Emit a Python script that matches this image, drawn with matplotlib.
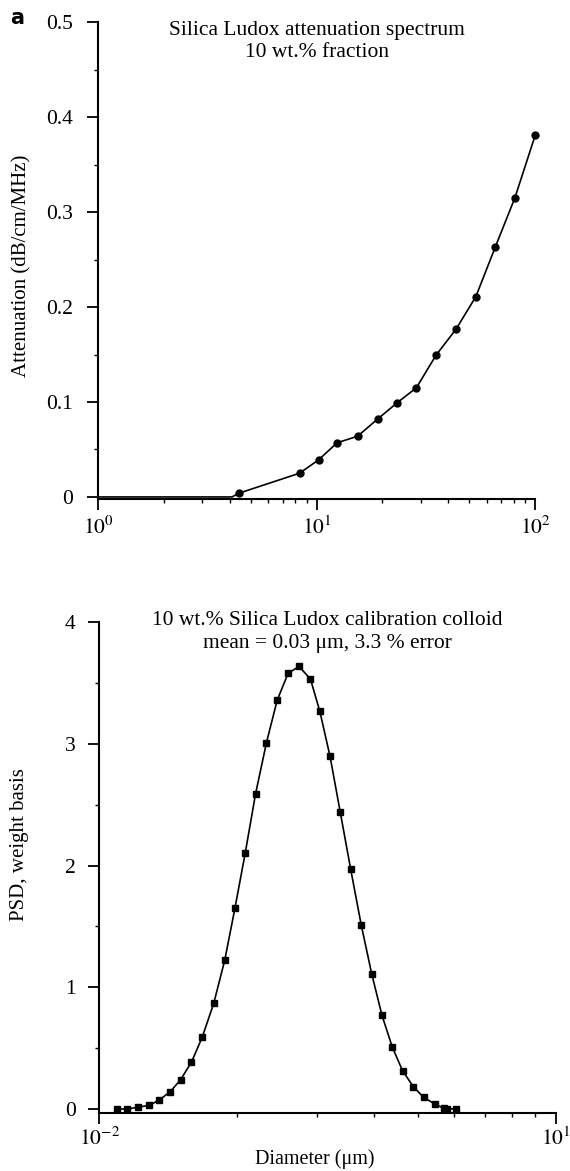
import matplotlib
matplotlib.use("Agg")
import matplotlib.pyplot as plt
from matplotlib.ticker import FixedLocator, NullFormatter

plt.rcParams["font.family"] = ["Liberation Serif", "DejaVu Serif"]
plt.rcParams["mathtext.fontset"] = "stix"

# panel a, top: attenuation spectrum (frequency in MHz)
freq = [4.42, 8.35, 10.2, 12.4, 15.4, 19.0, 23.3, 28.6, 35.1, 43.5, 53.5, 65.6, 80.7, 100.0]
atten = [0.004, 0.025, 0.039, 0.057, 0.064, 0.082, 0.099, 0.115, 0.149, 0.177, 0.211, 0.263, 0.315, 0.381]
baseline_freq = [1.0, 4.1]
baseline_atten = [0.0, 0.0]

# panel a, bottom: particle size distribution (diameter in um)
diam = [0.01092, 0.01153, 0.01219, 0.01287, 0.01353, 0.01429, 0.01507, 0.01592, 0.01681,
        0.01782, 0.01884, 0.01983, 0.02088, 0.02200, 0.02325, 0.02455, 0.02594, 0.02740,
        0.02902, 0.03043, 0.03204, 0.03373, 0.03555, 0.03750, 0.03953, 0.04161, 0.04387,
        0.04618, 0.04877, 0.05136, 0.05436, 0.05689, 0.05780, 0.06040]
psd = [0.0, 0.0, 0.016, 0.03, 0.074, 0.14, 0.24, 0.384, 0.589,
       0.868, 1.224, 1.649, 2.10, 2.587, 3.01, 3.36, 3.58, 3.635,
       3.532, 3.266, 2.896, 2.438, 1.97, 1.51, 1.11, 0.772, 0.507,
       0.315, 0.183, 0.096, 0.041, 0.005, 0.003, 0.0]

fig = plt.figure(figsize=(5.70, 11.71), dpi=100)
ax1 = fig.add_axes([0.172, 0.574, 0.767, 0.407])
ax2 = fig.add_axes([0.174, 0.0498, 0.801, 0.4190])

for ax in (ax1, ax2):
    ax.spines["top"].set_visible(False)
    ax.spines["right"].set_visible(False)
    ax.spines["left"].set_linewidth(1.5)
    ax.spines["bottom"].set_linewidth(1.5)
    ax.set_xscale("log")
    ax.tick_params(which="major", direction="out", length=8, width=1.3, labelsize=15.5)
    ax.tick_params(which="minor", direction="out", length=3, width=1.0)

# top panel
ax1.plot(baseline_freq + freq, baseline_atten + atten, color="black", lw=1.2, clip_on=False)
ax1.plot(freq, atten, "o", color="black", ms=5, clip_on=False)
ax1.set_xlim(1, 100)
ax1.set_ylim(-0.002, 0.5)
ax1.set_yticks([0, 0.1, 0.2, 0.3, 0.4, 0.5])
ax1.set_yticklabels(["0", "0.1", "0.2", "0.3", "0.4", "0.5"])
ax1.yaxis.set_minor_locator(FixedLocator([0.05, 0.15, 0.25, 0.35, 0.45]))
ax1.set_xticks([1, 10, 100])
ax1.set_xticklabels(["$10^{0}$", "$10^{1}$", "$10^{2}$"])
ax1.xaxis.set_minor_formatter(NullFormatter())
ax1.tick_params(axis="y", which="major", pad=10)
ax1.tick_params(axis="x", which="major", pad=5)
ax1.set_ylabel("Attenuation (dB/cm/MHz)", fontsize=15)
ax1.yaxis.set_label_coords(-0.152, 0.49)
ax1.text(0.5, 1.003, "Silica Ludox attenuation spectrum\n10 wt.% fraction",
         transform=ax1.transAxes, ha="center", va="top", fontsize=15.5, linespacing=1.25)
fig.text(0.017, 0.9795, "a", fontsize=15, fontweight="bold", family="DejaVu Sans",
         ha="left", va="baseline")

# bottom panel
ax2.plot(diam, psd, color="black", lw=1.2, clip_on=False)
ax2.plot(diam, psd, "s", color="black", ms=5, clip_on=False)
ax2.set_xlim(0.01, 0.1)
ax2.set_ylim(-0.03, 4)
ax2.set_yticks([0, 1, 2, 3, 4])
ax2.yaxis.set_minor_locator(FixedLocator([0.5, 1.5, 2.5, 3.5]))
ax2.set_xticks([0.01, 0.1])
ax2.set_xticklabels(["$10^{-2}$", "$10^{1}$"])
ax2.xaxis.set_minor_formatter(NullFormatter())
ax2.tick_params(axis="y", which="major", pad=9)
ax2.tick_params(axis="x", which="major", pad=3)
ax2.set_ylabel("PSD, weight basis", fontsize=15)
ax2.yaxis.set_label_coords(-0.153, 0.546)
fig.text(0.553, 0.006, "Diameter (\u03bcm)", fontsize=14.5, ha="center", va="baseline")
ax2.text(0.5, 1.022, "10 wt.% Silica Ludox calibration colloid\nmean = 0.03 \u03bcm, 3.3 % error",
         transform=ax2.transAxes, ha="center", va="top", fontsize=15.5, linespacing=1.25)

fig.savefig("out.png", dpi=100)
